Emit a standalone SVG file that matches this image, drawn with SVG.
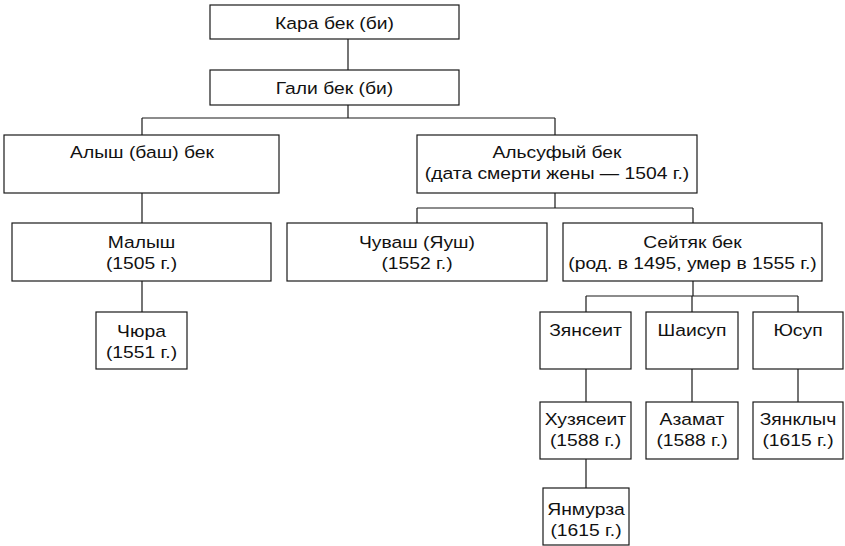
<svg xmlns="http://www.w3.org/2000/svg" width="845" height="546" viewBox="0 0 845 546">
<style>
rect.n{fill:#fff;stroke:#1a1a1a;stroke-width:1.2}
text{font-family:"Liberation Sans",Arial,sans-serif;font-size:16.5px;fill:#111;text-anchor:middle}
#connectors path{fill:none;stroke:#1a1a1a;stroke-width:1.2}
</style>
<rect width="845" height="546" fill="#fff"/>
<g id="connectors">
<path d="M348 39V70M348 105V118M142 118H555M142 118V135M555 118V135"/>
<path d="M142 193V223M142 281V312"/>
<path d="M555 193V208M417 208H693M417 208V223M693 208V223"/>
<path d="M693 281V296M586 296H798M586 296V312M692 296V312M798 296V312"/>
<path d="M586 369V402M692 369V402M798 369V402M586 459V488"/>
</g>
<g id="kara"><rect class="n" x="210" y="5" width="249" height="34"/><text transform="translate(334.5,28.5) scale(1.17,1)">Кара бек (би)</text></g>
<g id="gali"><rect class="n" x="210" y="70" width="249" height="35"/><text transform="translate(334.5,94) scale(1.17,1)">Гали бек (би)</text></g>
<g id="alysh"><rect class="n" x="4" y="135" width="275" height="58"/><text transform="translate(142,158) scale(1.17,1)">Алыш (баш) бек</text></g>
<g id="alsufy"><rect class="n" x="417" y="135" width="280" height="58"/><text transform="translate(557,158) scale(1.17,1)">Альсуфый бек</text><text transform="translate(557,179) scale(1.17,1)">(дата смерти жены — 1504 г.)</text></g>
<g id="malysh"><rect class="n" x="12" y="223" width="259" height="58"/><text transform="translate(141.5,248) scale(1.17,1)">Малыш</text><text transform="translate(141.5,269) scale(1.17,1)">(1505 г.)</text></g>
<g id="chyura"><rect class="n" x="96" y="312" width="91" height="57"/><text transform="translate(141.5,337) scale(1.17,1)">Чюра</text><text transform="translate(141.5,358) scale(1.17,1)">(1551 г.)</text></g>
<g id="chuvash"><rect class="n" x="287" y="223" width="260" height="58"/><text transform="translate(417,248) scale(1.17,1)">Чуваш (Яуш)</text><text transform="translate(417,269) scale(1.17,1)">(1552 г.)</text></g>
<g id="seityak"><rect class="n" x="563" y="223" width="259" height="58"/><text transform="translate(692.5,248) scale(1.17,1)">Сейтяк бек</text><text transform="translate(692.5,269) scale(1.17,1)">(род. в 1495, умер в 1555 г.)</text></g>
<g id="zyanseit"><rect class="n" x="540" y="312" width="91" height="57"/><text transform="translate(585.5,336) scale(1.17,1)">Зянсеит</text></g>
<g id="shaisup"><rect class="n" x="646" y="312" width="92" height="57"/><text transform="translate(692,336) scale(1.17,1)">Шаисуп</text></g>
<g id="yusup"><rect class="n" x="753" y="312" width="90" height="57"/><text transform="translate(798,336) scale(1.17,1)">Юсуп</text></g>
<g id="huzyaseit"><rect class="n" x="540" y="402" width="91" height="57"/><text transform="translate(585.5,425) scale(1.17,1)">Хузясеит</text><text transform="translate(585.5,446) scale(1.17,1)">(1588 г.)</text></g>
<g id="azamat"><rect class="n" x="646" y="402" width="92" height="57"/><text transform="translate(692,425) scale(1.17,1)">Азамат</text><text transform="translate(692,446) scale(1.17,1)">(1588 г.)</text></g>
<g id="zyanklych"><rect class="n" x="753" y="402" width="90" height="57"/><text transform="translate(798,425) scale(1.17,1)">Зянклыч</text><text transform="translate(798,446) scale(1.17,1)">(1615 г.)</text></g>
<g id="yanmurza"><rect class="n" x="543" y="488" width="86" height="57"/><text transform="translate(586,515) scale(1.17,1)">Янмурза</text><text transform="translate(586,536) scale(1.17,1)">(1615 г.)</text></g>
</svg>
